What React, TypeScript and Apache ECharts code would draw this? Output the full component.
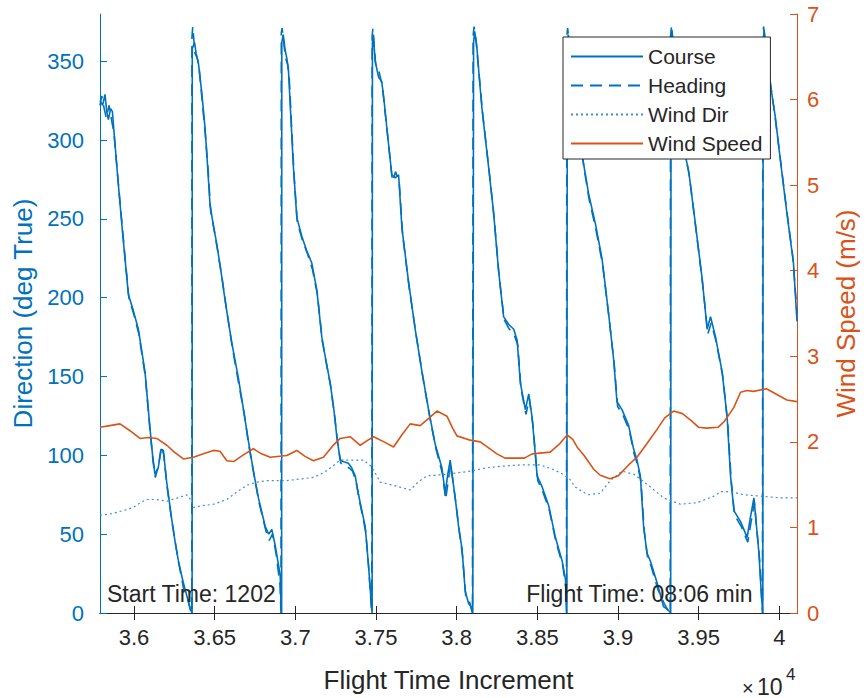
import { useEffect, useRef } from 'react';
import * as echarts from 'echarts';

const FONT = '"Liberation Sans", Arial, Helvetica, sans-serif';
const BLUE = '#0072BD';
const ORANGE = '#D95319';
const AXIS = '#262626';

const X_MIN = 35789;
const X_MAX = 40110;
const X_TICKS = [36000, 36500, 37000, 37500, 38000, 38500, 39000, 39500, 40000];
const X_TICK_LABELS = ['3.6', '3.65', '3.7', '3.75', '3.8', '3.85', '3.9', '3.95', '4'];
const DIR_TICKS = [0, 50, 100, 150, 200, 250, 300, 350];
const SPEED_TICKS = [0, 1, 2, 3, 4, 5, 6, 7];

const course: [number, number][] = [
  [35789, 325], [35805, 322], [35820, 329], [35831, 318], [35841, 313], [35855, 320], [35866, 318], [35872, 310],
  [35900, 275], [35930, 240], [35965, 202], [35995, 192], [36027, 180], [36068, 153], [36099, 117], [36115, 100],
  [36130, 88], [36150, 92], [36168, 104], [36182, 103], [36200, 85], [36230, 62], [36255, 45], [36275, 33],
  [36306, 19], [36330, 10], [36350, 2], [36360, 0],
  [36361, 358], [36375, 362], [36385, 355], [36399, 349], [36420, 330], [36440, 308], [36455, 285], [36471, 259],
  [36490, 247], [36513, 234], [36540, 216], [36565, 198], [36605, 172], [36647, 149], [36680, 128], [36709, 109],
  [36740, 90], [36771, 73], [36813, 55], [36835, 50], [36854, 53], [36875, 43], [36906, 24], [36912, 5], [36915, 0],
  [36916, 362], [36925, 367], [36937, 357], [36947, 352], [36957, 345], [36972, 315], [36988, 283], [37009, 251],
  [37040, 239], [37070, 230], [37102, 222], [37133, 205], [37164, 175], [37190, 160], [37216, 146], [37240, 128],
  [37257, 112], [37278, 97], [37300, 96], [37329, 95], [37350, 92], [37371, 87], [37392, 75], [37412, 65],
  [37433, 55], [37453, 31], [37468, 10], [37476, 0],
  [37478, 362], [37484, 366], [37495, 350], [37516, 340], [37536, 337], [37550, 325], [37567, 308], [37598, 278],
  [37619, 276], [37640, 278], [37661, 244], [37702, 210], [37743, 180], [37785, 153], [37826, 129], [37867, 107],
  [37909, 92], [37929, 76], [37945, 88], [37960, 97], [37991, 73], [38012, 55], [38033, 41], [38053, 14],
  [38074, 6], [38090, 4], [38100, 0],
  [38105, 362], [38112, 369], [38126, 358], [38140, 340], [38157, 320], [38198, 283], [38229, 254], [38260, 217],
  [38291, 188], [38323, 183], [38354, 180], [38375, 173], [38395, 146], [38426, 129], [38447, 139], [38468, 124],
  [38499, 87], [38530, 80], [38571, 68], [38612, 48], [38654, 33], [38675, 21], [38683, 0],
  [38686, 360], [38692, 367], [38710, 352], [38740, 322], [38765, 300], [38787, 285], [38818, 266], [38860, 247],
  [38901, 225], [38942, 190], [38973, 161], [38994, 134], [39025, 129], [39066, 119], [39097, 104], [39118, 97],
  [39139, 87], [39159, 55], [39180, 38], [39201, 33], [39243, 19], [39283, 4], [39310, 2], [39327, 0],
  [39329, 362], [39335, 370], [39350, 352], [39380, 318], [39418, 290], [39439, 280], [39480, 247], [39522, 212],
  [39553, 180], [39574, 188], [39605, 175], [39646, 153], [39677, 124], [39698, 87], [39719, 65], [39760, 58],
  [39801, 48], [39820, 60], [39843, 73], [39874, 38], [39890, 10], [39898, 0],
  [39900, 362], [39906, 370], [39925, 352], [39950, 332], [39975, 315], [40006, 288], [40047, 254], [40088, 222],
  [40110, 185],
];

const heading: [number, number][] = [
  [35789, 322], [35800, 328], [35815, 320], [35828, 314], [35845, 322], [35862, 312], [35875, 305], [35905, 270],
  [35935, 236], [35968, 200], [36000, 189], [36030, 177], [36070, 150], [36100, 115], [36118, 96], [36132, 86],
  [36152, 94], [36170, 106], [36185, 100], [36205, 80], [36235, 58], [36260, 42], [36280, 30], [36310, 14],
  [36335, 8], [36352, 1], [36358, 0],
  [36359, 365], [36364, 372], [36378, 355], [36392, 352], [36405, 344], [36425, 322], [36445, 300], [36460, 280],
  [36475, 255], [36495, 244], [36518, 230], [36545, 213], [36570, 195], [36610, 168], [36650, 145], [36685, 125],
  [36712, 106], [36745, 87], [36775, 70], [36818, 52], [36838, 46], [36858, 50], [36880, 38], [36905, 18], [36911, 0],
  [36913, 368], [36918, 371], [36930, 360], [36940, 352], [36952, 348], [36962, 340], [36977, 308], [36992, 278],
  [37012, 248], [37045, 236], [37075, 228], [37106, 218], [37137, 202], [37168, 172], [37195, 157], [37220, 143],
  [37245, 124], [37262, 108], [37282, 95], [37305, 94], [37333, 92], [37355, 90], [37375, 84], [37396, 72],
  [37416, 62], [37437, 51], [37456, 27], [37470, 5], [37474, 0],
  [37476, 366], [37481, 371], [37490, 358], [37500, 346], [37520, 343], [37540, 334], [37554, 320], [37571, 304],
  [37602, 274], [37622, 280], [37645, 272], [37665, 240], [37706, 206], [37748, 177], [37790, 150], [37830, 126],
  [37872, 104], [37913, 88], [37932, 72], [37948, 84], [37963, 94], [37995, 70], [38016, 52], [38037, 36],
  [38057, 10], [38078, 8], [38092, 2], [38098, 0],
  [38102, 366], [38108, 372], [38122, 362], [38130, 352], [38145, 335], [38162, 316], [38202, 280], [38233, 250],
  [38264, 213], [38295, 186], [38327, 180], [38358, 176], [38379, 170], [38399, 142], [38430, 126], [38450, 136],
  [38472, 120], [38503, 84], [38534, 77], [38575, 65], [38616, 45], [38658, 30], [38677, 16], [38681, 0],
  [38683, 366], [38688, 371], [38705, 356], [38735, 326], [38760, 304], [38790, 282], [38822, 262], [38864, 243],
  [38905, 221], [38946, 186], [38977, 158], [38998, 131], [39029, 126], [39070, 116], [39100, 101], [39122, 94],
  [39143, 83], [39163, 52], [39184, 35], [39205, 30], [39247, 15], [39287, 6], [39314, 1], [39324, 0],
  [39326, 366], [39332, 372], [39345, 356], [39375, 322], [39413, 294], [39443, 277], [39484, 243], [39526, 208],
  [39557, 177], [39578, 184], [39609, 172], [39650, 150], [39681, 120], [39702, 84], [39723, 62], [39764, 55],
  [39805, 45], [39824, 57], [39846, 70], [39878, 34], [39892, 8], [39896, 0],
  [39898, 366], [39903, 372], [39920, 356], [39945, 336], [39970, 318], [40002, 292], [40043, 258], [40084, 226],
  [40110, 190],
];

const windDir: [number, number][] = [
  [35789, 62], [35860, 63], [35934, 65], [35996, 67], [36040, 70], [36079, 72], [36140, 72], [36203, 71],
  [36270, 73], [36327, 75], [36350, 72], [36368, 67], [36420, 68], [36492, 69], [36575, 72], [36640, 77],
  [36699, 81], [36760, 83], [36823, 84], [36947, 84], [37030, 85], [37112, 86], [37174, 89], [37230, 93],
  [37278, 97], [37350, 97], [37423, 97], [37470, 93], [37500, 88], [37526, 83], [37609, 81], [37712, 78],
  [37760, 83], [37816, 87], [37940, 88], [38010, 89], [38084, 90], [38180, 92], [38270, 93], [38400, 94],
  [38518, 94], [38600, 91], [38660, 88], [38700, 85], [38735, 80], [38780, 77], [38818, 75], [38890, 76],
  [38953, 84], [39025, 90], [39100, 88], [39201, 80], [39283, 73], [39387, 69], [39490, 70], [39593, 74],
  [39640, 77], [39700, 77], [39780, 75], [39903, 74], [40006, 73], [40110, 73],
];

const windSpeed: [number, number][] = [
  [35789, 2.17], [35850, 2.19], [35913, 2.21], [35975, 2.13], [36037, 2.04], [36090, 2.05], [36141, 2.04],
  [36203, 1.96], [36250, 1.88], [36306, 1.8], [36368, 1.82], [36430, 1.86], [36492, 1.9], [36533, 1.89],
  [36575, 1.78], [36617, 1.77], [36680, 1.85], [36740, 1.92], [36790, 1.86], [36844, 1.82], [36947, 1.84],
  [37009, 1.9], [37060, 1.83], [37112, 1.78], [37174, 1.82], [37230, 1.95], [37278, 2.04], [37340, 2.06],
  [37402, 1.96], [37450, 2.02], [37485, 2.06], [37550, 2.0], [37609, 1.94], [37660, 2.08], [37712, 2.21],
  [37774, 2.19], [37830, 2.28], [37878, 2.36], [37940, 2.3], [37975, 2.16], [38002, 2.07], [38084, 2.02],
  [38146, 2.0], [38198, 1.93], [38250, 1.86], [38300, 1.81], [38420, 1.81], [38468, 1.86], [38580, 1.88],
  [38640, 1.98], [38685, 2.08], [38720, 2.03], [38750, 1.93], [38790, 1.84], [38850, 1.68], [38890, 1.61],
  [38950, 1.57], [39000, 1.6], [39066, 1.73], [39118, 1.82], [39180, 1.98], [39240, 2.14], [39290, 2.28],
  [39345, 2.36], [39400, 2.33], [39460, 2.24], [39500, 2.17], [39550, 2.16], [39620, 2.17], [39660, 2.24],
  [39718, 2.4], [39760, 2.58], [39800, 2.6], [39840, 2.59], [39920, 2.62], [39980, 2.56], [40047, 2.49],
  [40110, 2.47],
];

const START_TEXT = 'Start Time: 1202';
const FLIGHT_TEXT = 'Flight Time: 08:06 min';

export default function App() {
  const ref = useRef<HTMLDivElement>(null);

  useEffect(() => {
    if (!ref.current) return;
    const chart = echarts.init(ref.current, null, { renderer: 'svg' });
    const xLabel = (v: number) => {
      const i = X_TICKS.indexOf(v);
      return i >= 0 ? X_TICK_LABELS[i] : '';
    };
    chart.setOption({
      animation: false,
      backgroundColor: '#ffffff',
      textStyle: { fontFamily: FONT },
      grid: { left: 100, right: 70, top: 14, bottom: 85, outerBoundsMode: 'none' },
      legend: {
        orient: 'vertical',
        left: 563,
        top: 37,
        itemWidth: 72,
        itemHeight: 14,
        itemGap: 8,
        padding: [9, 8, 5, 7],
        borderColor: AXIS,
        borderWidth: 1,
        backgroundColor: '#ffffff',
        itemStyle: { opacity: 0 },
        textStyle: { fontSize: 21, color: AXIS, fontFamily: FONT },
        data: ['Course', 'Heading', 'Wind Dir', 'Wind Speed'],
        z: 20,
      },
      xAxis: [
        {
          type: 'value',
          position: 'bottom',
          min: X_MIN,
          max: X_MAX,
          name: 'Flight Time Increment',
          nameLocation: 'middle',
          nameGap: 54,
          nameTextStyle: { fontSize: 26, color: AXIS, fontFamily: FONT },
          axisLine: { show: true, lineStyle: { color: AXIS, width: 1 } },
          axisTick: { show: true, inside: true, length: 7, lineStyle: { color: AXIS }, customValues: X_TICKS },
          axisLabel: { show: true, color: AXIS, fontSize: 22, margin: 13, fontFamily: FONT, customValues: X_TICKS, formatter: xLabel },
          splitLine: { show: false },
        },
        {
          type: 'value',
          position: 'top',
          min: X_MIN,
          max: X_MAX,
          axisLine: { show: true, lineStyle: { color: AXIS, width: 1 } },
          axisTick: { show: true, inside: true, length: 7, lineStyle: { color: AXIS }, customValues: X_TICKS },
          axisLabel: { show: false },
          splitLine: { show: false },
        },
      ],
      yAxis: [
        {
          type: 'value',
          position: 'left',
          min: 0,
          max: 380,
          name: 'Direction (deg True)',
          nameLocation: 'middle',
          nameRotate: 90,
          nameGap: 58,
          nameTextStyle: { fontSize: 26, color: BLUE, fontFamily: FONT },
          axisLine: { show: true, lineStyle: { color: BLUE, width: 1 } },
          axisTick: { show: true, inside: true, length: 7, lineStyle: { color: BLUE }, customValues: DIR_TICKS },
          axisLabel: { color: BLUE, fontSize: 22, margin: 16, fontFamily: FONT, customValues: DIR_TICKS },
          splitLine: { show: false },
        },
        {
          type: 'value',
          position: 'right',
          min: 0,
          max: 7,
          name: 'Wind Speed (m/s)',
          nameLocation: 'middle',
          nameRotate: 90,
          nameGap: 36,
          nameTextStyle: { fontSize: 26, color: ORANGE, fontFamily: FONT },
          axisLine: { show: true, lineStyle: { color: ORANGE, width: 1 } },
          axisTick: { show: true, inside: true, length: 7, lineStyle: { color: ORANGE }, customValues: SPEED_TICKS },
          axisLabel: { color: ORANGE, fontSize: 22, margin: 10, fontFamily: FONT, customValues: SPEED_TICKS },
          splitLine: { show: false },
        },
      ],
      series: [
        {
          name: 'Course',
          type: 'line',
          xAxisIndex: 0,
          yAxisIndex: 0,
          data: course,
          symbol: 'none',
          color: BLUE,
          lineStyle: { color: BLUE, width: 1.6 },
          z: 3,
        },
        {
          name: 'Heading',
          type: 'line',
          xAxisIndex: 0,
          yAxisIndex: 0,
          data: heading,
          symbol: 'none',
          color: BLUE,
          lineStyle: { color: BLUE, width: 1.6, type: [12, 7] },
          z: 3,
        },
        {
          name: 'Wind Dir',
          type: 'line',
          xAxisIndex: 0,
          yAxisIndex: 0,
          data: windDir,
          symbol: 'none',
          color: '#3E8FD0',
          lineStyle: { color: '#3E8FD0', width: 1.2, type: [2, 3] },
          z: 3,
        },
        {
          name: 'Wind Speed',
          type: 'line',
          xAxisIndex: 0,
          yAxisIndex: 1,
          data: windSpeed,
          symbol: 'none',
          color: ORANGE,
          lineStyle: { color: ORANGE, width: 1.6 },
          z: 4,
        },
      ],
      graphic: [
        {
          type: 'text',
          left: 107,
          top: 582,
          z: 100,
          style: { text: START_TEXT, fill: AXIS, font: `23px ${FONT}` },
        },
        {
          type: 'text',
          right: 867 - 753,
          top: 582,
          z: 100,
          style: { text: FLIGHT_TEXT, fill: AXIS, font: `23px ${FONT}` },
        },
        {
          type: 'text',
          left: 742,
          top: 678,
          z: 100,
          style: { text: '×', fill: AXIS, font: `20px ${FONT}` },
        },
        {
          type: 'text',
          left: 757,
          top: 675,
          z: 100,
          style: { text: '10', fill: AXIS, font: `23px ${FONT}` },
        },
        {
          type: 'text',
          left: 786,
          top: 666,
          z: 100,
          style: { text: '4', fill: AXIS, font: `17px ${FONT}` },
        },
      ],
    });
    return () => chart.dispose();
  }, []);

  return (
    <div
      ref={ref}
      style={{ position: 'fixed', left: 0, top: 0, width: 867, height: 698, background: '#fff' }}
    />
  );
}
